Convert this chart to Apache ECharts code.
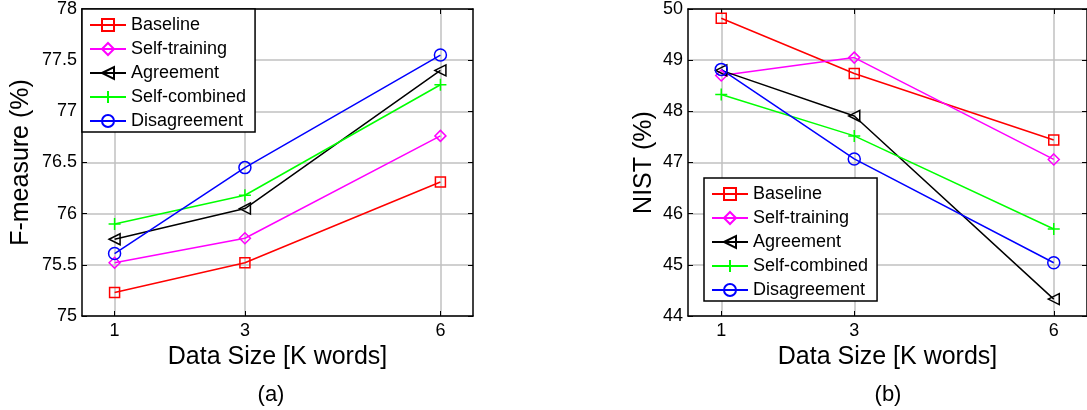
<!DOCTYPE html>
<html>
<head>
<meta charset="utf-8">
<script src="https://cdn.jsdelivr.net/npm/echarts@6/dist/echarts.min.js"></script>
<style>
html,body{margin:0;padding:0;background:#fff;}
#chart{width:1087px;height:410px;}
</style>
</head>
<body>
<div id="chart"></div>
<script>
// ---- data ----
const dataSizes = [1, 3, 6];
const seriesNames = ['Baseline', 'Self-training', 'Agreement', 'Self-combined', 'Disagreement'];
// (a) F-measure (%)
const fBaseline      = [75.23, 75.52, 76.31];
const fSelfTraining  = [75.52, 75.76, 76.76];
const fAgreement     = [75.75, 76.05, 77.40];
const fSelfCombined  = [75.90, 76.18, 77.26];
const fDisagreement  = [75.61, 76.45, 77.55];
// (b) NIST (%)
const nBaseline      = [49.82, 48.74, 47.44];
const nSelfTraining  = [48.70, 49.05, 47.06];
const nAgreement     = [48.80, 47.91, 44.33];
const nSelfCombined  = [48.33, 47.52, 45.70];
const nDisagreement  = [48.82, 47.07, 45.04];
const fTicks = [75, 75.5, 76, 76.5, 77, 77.5, 78];
const nTicks = [44, 45, 46, 47, 48, 49, 50];

const colors = ['#ff0000', '#ff00ff', '#000000', '#00ff00', '#0000ff'];
const symbols = [
  'rect',
  'diamond',
  'path://M0,5L10,0L10,10Z',
  'path://M0,5L10,5M5,0L5,10',
  'circle'
];
const symbolSizes = [10, 11, 11, 12, 12];
const FONT = '"Liberation Sans", Arial, sans-serif';

const chart = echarts.init(document.getElementById('chart'), null, {renderer: 'canvas'});

function pairs(vals) { return dataSizes.map((x, i) => [x, vals[i]]); }

function makeSeries(gridIdx, valsList) {
  return valsList.map((vals, i) => ({
    name: seriesNames[i],
    type: 'line',
    xAxisIndex: gridIdx * 2,
    yAxisIndex: gridIdx * 2,
    data: pairs(vals),
    symbol: symbols[i],
    symbolSize: symbolSizes[i],
    showAllSymbol: true,
    color: colors[i],
    lineStyle: {color: colors[i], width: 1.5},
    itemStyle: {color: 'rgba(255,255,255,0)', borderColor: colors[i], borderWidth: 1.5},
    emphasis: {disabled: true},
    animation: false,
    z: 3
  }));
}

function xAxes(gridIdx) {
  const base = {
    type: 'value', gridIndex: gridIdx, min: 0.5, max: 6.5,
    axisLine: {show: true, lineStyle: {color: '#000', width: 1.5}},
  };
  return [
    Object.assign({}, base, {
      position: 'bottom',
      name: 'Data Size [K words]', nameLocation: 'middle', nameGap: 24,
      nameTextStyle: {fontSize: 25, color: '#000', fontFamily: FONT},
      axisTick: {show: true, inside: true, length: 5, customValues: dataSizes, lineStyle: {color: '#000', width: 1}},
      axisLabel: {show: true, customValues: dataSizes, fontSize: 18, color: '#000', fontFamily: FONT, margin: 6},
      splitLine: {show: true, lineStyle: {color: '#c0c0c0', width: 1.5}}
    }),
    Object.assign({}, base, {
      position: 'top',
      axisTick: {show: true, inside: true, length: 5, customValues: dataSizes, lineStyle: {color: '#000', width: 1}},
      axisLabel: {show: false},
      splitLine: {show: false}
    })
  ];
}

function yAxes(gridIdx, min, max, interval, name, nameGap) {
  const base = {
    type: 'value', gridIndex: gridIdx, min: min, max: max, interval: interval,
    axisLine: {show: true, lineStyle: {color: '#000', width: 1.5}},
    axisTick: {show: true, inside: true, length: 5, lineStyle: {color: '#000', width: 1}}
  };
  return [
    Object.assign({}, base, {
      position: 'left',
      name: name, nameLocation: 'middle', nameGap: nameGap, nameRotate: 90,
      nameTextStyle: {fontSize: 25, color: '#000', fontFamily: FONT},
      axisLabel: {show: true, fontSize: 18, color: '#000', fontFamily: FONT, margin: 5},
      splitLine: {show: true, lineStyle: {color: '#c0c0c0', width: 1.5}}
    }),
    Object.assign({}, base, {
      position: 'right',
      axisLabel: {show: false},
      splitLine: {show: false}
    })
  ];
}

function legend(left, top) {
  return {
    orient: 'vertical',
    left: left, top: top,
    data: seriesNames,
    itemWidth: 36, itemHeight: 15, itemGap: 6,
    padding: [7, 9, 2, 7],
    backgroundColor: '#fff',
    borderColor: '#000', borderWidth: 1.5, borderRadius: 0,
    textStyle: {fontSize: 18, color: '#000', fontFamily: FONT},
    selectedMode: false,
    z: 10
  };
}

const option = {
  backgroundColor: '#fff',
  animation: false,
  textStyle: {fontFamily: FONT},
  grid: [
    {left: 82, top: 9, width: 391, height: 307, containLabel: false},
    {left: 688, top: 9, width: 402, height: 307, containLabel: false}
  ],
  xAxis: [...xAxes(0), ...xAxes(1)],
  yAxis: [
    ...yAxes(0, fTicks[0], fTicks[fTicks.length - 1], fTicks[1] - fTicks[0], 'F-measure (%)', 48),
    ...yAxes(1, nTicks[0], nTicks[nTicks.length - 1], nTicks[1] - nTicks[0], 'NIST (%)', 31)
  ],
  legend: [legend(82, 9), legend(704, 178)],
  title: [
    {text: '(a)', left: 266, top: 379, textAlign: 'center',
     textStyle: {fontSize: 22, fontWeight: 'normal', color: '#000', fontFamily: FONT}},
    {text: '(b)', left: 883, top: 379, textAlign: 'center',
     textStyle: {fontSize: 22, fontWeight: 'normal', color: '#000', fontFamily: FONT}}
  ],
  series: [
    ...makeSeries(0, [fBaseline, fSelfTraining, fAgreement, fSelfCombined, fDisagreement]),
    ...makeSeries(1, [nBaseline, nSelfTraining, nAgreement, nSelfCombined, nDisagreement])
  ]
};
chart.setOption(option);
</script>
</body>
</html>
